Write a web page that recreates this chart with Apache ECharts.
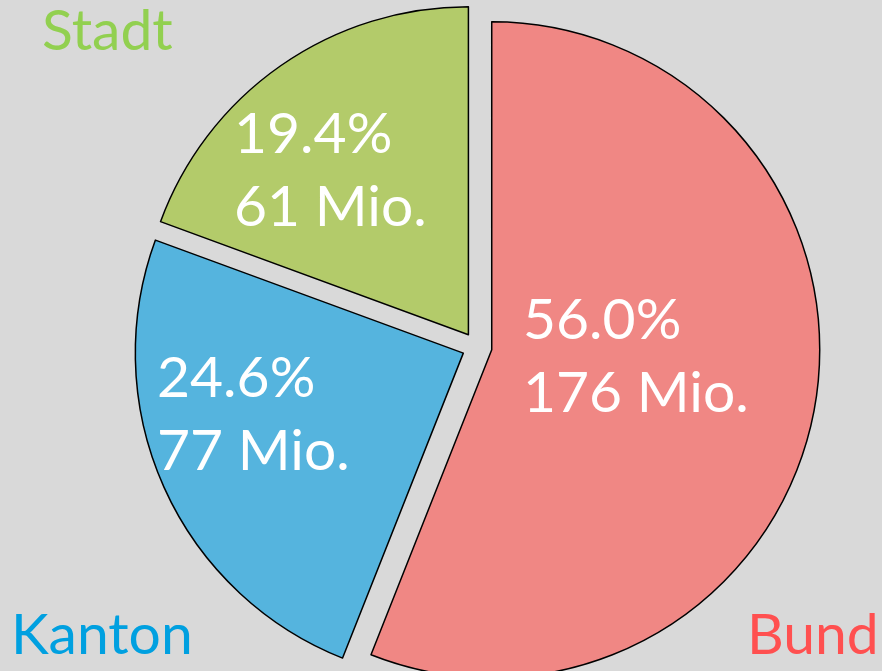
<!DOCTYPE html>
<html>
<head>
<meta charset="utf-8">
<script src="https://cdn.jsdelivr.net/npm/echarts@6/dist/echarts.min.js"></script>
<style>
  html, body { margin: 0; padding: 0; background: #d9d9d9; }
  #chart { width: 882px; height: 671px; }
</style>
</head>
<body>
<div id="chart"></div>
<script>
// data
const categories = ['Bund', 'Kanton', 'Stadt']
const shares = [56.0, 24.6, 19.4]          // percent
const shareLabels = ['56.0%', '24.6%', '19.4%']
const millions = [176, 77, 61]             // Mio.

const sliceColors = ['#f08784', '#55b4de', '#b3cb6a']
const nameColors = ['#ff5050', '#00a0e0', '#92d050']

// label placement (left x, block middle y)
const labelPos = [
  [523, 357],
  [157, 415],
  [234, 171],
]
const namePos = [
  [747, 636],
  [11, 636],
  [42, 32],
]

const font = 'Lato, "Noto Sans", sans-serif'

const chart = echarts.init(document.getElementById('chart'))

const nameTexts = categories.map((name, i) => ({
  type: 'text',
  x: namePos[i][0],
  y: namePos[i][1],
  z: 10,
  style: {
    text: name,
    fill: nameColors[i],
    font: '57px ' + font,
    align: 'left',
    verticalAlign: 'middle',
  },
}))

const valueTexts = categories.map((name, i) => ({
  type: 'text',
  x: labelPos[i][0],
  y: labelPos[i][1],
  z: 10,
  style: {
    text: shareLabels[i] + '\n' + millions[i] + ' Mio.',
    fill: '#fff',
    font: '57px ' + font,
    lineHeight: 73,
    align: 'left',
    verticalAlign: 'middle',
  },
}))

const option = {
  backgroundColor: '#d9d9d9',
  animation: false,
  graphic: nameTexts.concat(valueTexts),
  series: [
    {
      type: 'pie',
      center: [477, 347],
      radius: 328,
      startAngle: 90,
      clockwise: true,
      selectedMode: 'multiple',
      selectedOffset: 15,
      avoidLabelOverlap: false,
      emphasis: { disabled: true },
      itemStyle: {
        borderColor: '#000',
        borderWidth: 1.5,
      },
      label: { show: false },
      labelLine: { show: false },
      data: categories.map((name, i) => ({
        name: name,
        value: shares[i],
        selected: true,
        itemStyle: { color: sliceColors[i] },
        select: {
          itemStyle: { color: sliceColors[i], borderColor: '#000', borderWidth: 1.5 },
        },
      })),
    },
  ],
}

chart.setOption(option)
</script>
</body>
</html>
